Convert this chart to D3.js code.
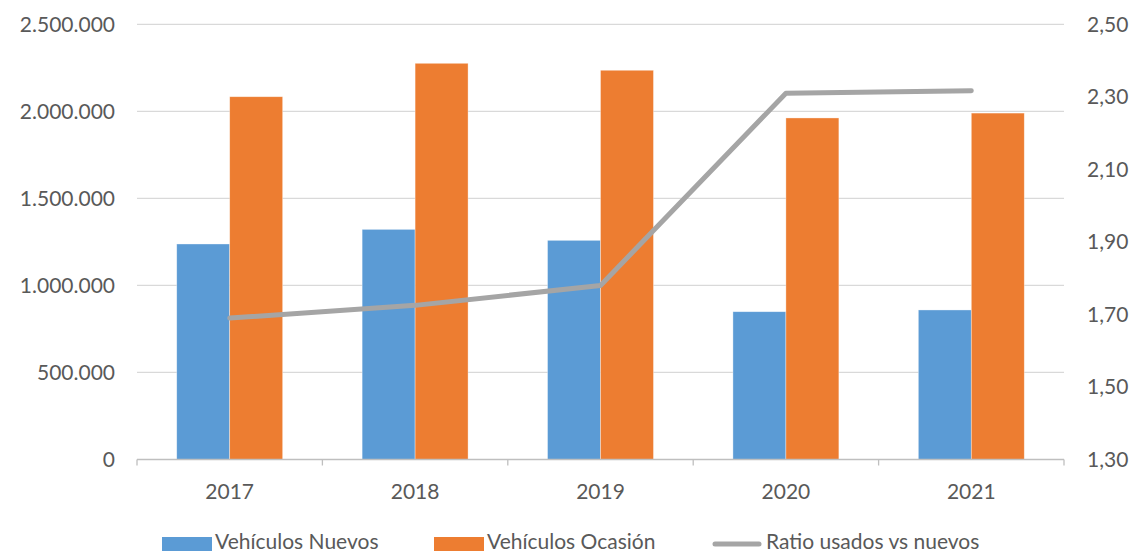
<!DOCTYPE html>
<html>
<head>
<meta charset="utf-8">
<script src="https://cdn.jsdelivr.net/npm/d3@7"></script>
<style>
  body { margin: 0; background: #fff; }
  text { font-family: Lato, "Noto Sans", sans-serif; fill: #595959; }
</style>
</head>
<body>
<div id="chart"></div>
<script>
const years = ['2017', '2018', '2019', '2020', '2021'];
const nuevos = [1238000, 1322000, 1259000, 849000, 859000];
const ocasion = [2084000, 2276000, 2236000, 1962000, 1990000];
const ratio = [1.69, 1.725, 1.78, 2.31, 2.317];
const leftTicks = [0, 500000, 1000000, 1500000, 2000000, 2500000];
const rightTicks = [1.3, 1.5, 1.7, 1.9, 2.1, 2.3, 2.5];
const seriesNames = ['Vehículos Nuevos', 'Vehículos Ocasión', 'Ratio usados vs nuevos'];

const width = 1135;
const height = 553;
const plotLeft = 137, plotRight = 1064, plotTop = 24.3, plotBottom = 459.5;
const blue = '#5B9BD5', orange = '#ED7D31', grey = '#A5A5A5';
const fontSize = '21px';

const svg = d3.select('#chart').append('svg')
  .attr('width', width)
  .attr('height', height);

/* Scales */
const x = d3.scaleBand()
  .domain(years)
  .range([plotLeft, plotRight])
  .paddingInner(0)
  .paddingOuter(0);

const yLeft = d3.scaleLinear()
  .domain([0, 2500000])
  .range([plotBottom, plotTop]);

const yRight = d3.scaleLinear()
  .domain([1.3, 2.5])
  .range([plotBottom, plotTop]);

// gap width 150% like excel: group = 2 bars + 1.5 bar
const barW = x.bandwidth() / 3.5;

const fmtLeft = d => d3.format(',')(d).replace(/,/g, '.');
const fmtRight = d => d.toFixed(2).replace('.', ',');

/* gridlines */
svg.append('g')
  .selectAll('line')
  .data(leftTicks.slice(1))
  .enter().append('line')
  .attr('x1', plotLeft)
  .attr('x2', plotRight)
  .attr('y1', d => yLeft(d))
  .attr('y2', d => yLeft(d))
  .style('stroke', '#D9D9D9')
  .style('stroke-width', 1.3);

/* bars */
const groups = svg.append('g').selectAll('g')
  .data(years).enter().append('g');

groups.append('rect')
  .attr('x', (d, i) => x(d) + x.bandwidth() / 2 - barW)
  .attr('y', (d, i) => yLeft(nuevos[i]))
  .attr('width', barW)
  .attr('height', (d, i) => plotBottom - yLeft(nuevos[i]))
  .style('fill', blue)
  .style('stroke', '#fff')
  .style('stroke-opacity', 0.5)
  .style('stroke-width', 0.7);

groups.append('rect')
  .attr('x', (d, i) => x(d) + x.bandwidth() / 2)
  .attr('y', (d, i) => yLeft(ocasion[i]))
  .attr('width', barW)
  .attr('height', (d, i) => plotBottom - yLeft(ocasion[i]))
  .style('fill', orange)
  .style('stroke', '#fff')
  .style('stroke-opacity', 0.5)
  .style('stroke-width', 0.7);

/* x axis */
const xAxis = svg.append('g');
xAxis.append('line')
  .attr('x1', plotLeft).attr('x2', plotRight)
  .attr('y1', plotBottom).attr('y2', plotBottom)
  .style('stroke', '#BFBFBF')
  .style('stroke-width', 1.3);
xAxis.selectAll('.tk')
  .data(years.concat(['end']))
  .enter().append('line')
  .attr('x1', (d, i) => plotLeft + i * x.bandwidth())
  .attr('x2', (d, i) => plotLeft + i * x.bandwidth())
  .attr('y1', plotBottom)
  .attr('y2', plotBottom + 6)
  .style('stroke', '#BFBFBF')
  .style('stroke-width', 1.3);
xAxis.selectAll('text')
  .data(years).enter().append('text')
  .attr('x', d => x(d) + x.bandwidth() / 2)
  .attr('y', 499)
  .attr('text-anchor', 'middle')
  .style('font-size', fontSize)
  .text(d => d);

/* left axis labels */
svg.append('g').selectAll('text')
  .data(leftTicks).enter().append('text')
  .attr('x', 115)
  .attr('y', d => yLeft(d) + 7.5)
  .attr('text-anchor', 'end')
  .style('font-size', fontSize)
  .text(fmtLeft);

/* right axis labels */
svg.append('g').selectAll('text')
  .data(rightTicks).enter().append('text')
  .attr('x', 1087)
  .attr('y', d => yRight(d) + 7.5)
  .attr('text-anchor', 'start')
  .style('font-size', fontSize)
  .text(fmtRight);

/* ratio line */
const line = d3.line()
  .x((d, i) => x(years[i]) + x.bandwidth() / 2)
  .y(d => yRight(d));

svg.append('path')
  .datum(ratio)
  .attr('d', line)
  .style('fill', 'none')
  .style('stroke', grey)
  .style('stroke-width', 5)
  .style('stroke-linecap', 'round')
  .style('stroke-linejoin', 'round');

/* legend */
const legend = svg.append('g');
const legendX = [162, 434, 713];
legend.append('rect')
  .attr('x', legendX[0]).attr('y', 537).attr('width', 50).attr('height', 14)
  .style('fill', blue);
legend.append('rect')
  .attr('x', legendX[1]).attr('y', 537).attr('width', 50).attr('height', 14)
  .style('fill', orange);
legend.append('line')
  .attr('x1', legendX[2] + 2).attr('x2', legendX[2] + 46)
  .attr('y1', 544).attr('y2', 544)
  .style('stroke', grey)
  .style('stroke-width', 5)
  .style('stroke-linecap', 'round');
legend.selectAll('text')
  .data(seriesNames).enter().append('text')
  .attr('x', (d, i) => legendX[i] + 53)
  .attr('y', 549)
  .style('font-size', fontSize)
  .text(d => d);
</script>
</body>
</html>
